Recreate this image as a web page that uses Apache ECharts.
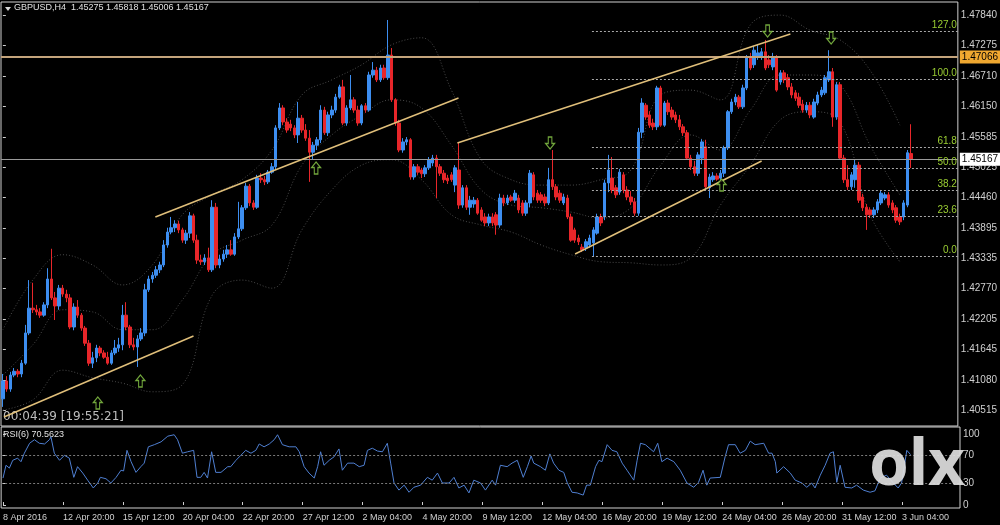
<!DOCTYPE html>
<html lang="en">
<head>
    <meta charset="UTF-8">
    <title>GBPUSD,H4</title>
    <script src="https://cdn.jsdelivr.net/npm/echarts@6/dist/echarts.min.js"></script>
    <style>
        html, body { margin: 0; padding: 0; background: #000; }
        #main { width: 1000px; height: 525px; }
    </style>
</head>
<body>
<div id="main"></div>

<script type="text/javascript">
    // H4 bars, index 0 = 8 Apr 2016 04:00
    var open = [
        1.4073,1.4106,1.4091,1.4117,1.4124,1.4119,1.4139,1.4195,1.4241,1.4238,
        1.4234,1.4228,1.4247,1.4295,1.4260,1.4245,1.4278,1.4267,1.4260,1.4206,
        1.4243,1.4228,1.4204,1.4176,1.4139,1.4149,1.4167,1.4158,1.4150,1.4139,
        1.4158,1.4167,1.4173,1.4228,1.4206,1.4173,1.4169,1.4184,1.4195,1.4275,
        1.4295,1.4302,1.4312,1.4321,1.4358,1.4382,1.4390,1.4397,1.4386,1.4367,
        1.4380,1.4412,1.4367,1.4330,1.4327,1.4334,1.4312,1.4428,1.4321,1.4332,
        1.4341,1.4349,1.4341,1.4373,1.4388,1.4427,1.4467,1.4436,1.4428,1.4482,
        1.4479,1.4475,1.4493,1.4503,1.4575,1.4612,1.4586,1.4582,1.4575,1.4562,
        1.4593,1.4571,1.4556,1.4530,1.4543,1.4553,1.4608,1.4566,1.4599,1.4608,
        1.4632,1.4651,1.4584,1.4612,1.4627,1.4608,1.4584,1.4616,1.4608,1.4673,
        1.4682,1.4664,1.4686,1.4668,1.4710,1.4627,1.4584,1.4534,1.4549,1.4553,
        1.4484,1.4503,1.4497,1.4490,1.4501,1.4510,1.4519,1.4503,1.4491,1.4482,
        1.4488,1.4469,1.4497,1.4432,1.4464,1.4428,1.4434,1.4441,1.4423,1.4410,
        1.4399,1.4410,1.4414,1.4395,1.4445,1.4436,1.4447,1.4441,1.4445,1.4436,
        1.4417,1.4436,1.4488,1.4454,1.4451,1.4447,1.4436,1.4479,1.4466,1.4454,
        1.4436,1.4445,1.4410,1.4386,1.4371,1.4354,1.4353,1.4358,1.4362,1.4380,
        1.4410,1.4410,1.4473,1.4482,1.4464,1.4456,1.4488,1.4460,1.4447,1.4438,
        1.4417,1.4567,1.4617,1.4599,1.4584,1.4577,1.4649,1.4580,1.4621,1.4608,
        1.4599,1.4590,1.4577,1.4566,1.4519,1.4503,1.4491,1.4519,1.4540,1.4464,
        1.4479,1.4486,1.4482,1.4491,1.4538,1.4605,1.4623,1.4632,1.4614,1.4649,
        1.4705,1.4692,1.4706,1.4708,1.4716,1.4701,1.4688,1.4706,1.4660,1.4677,
        1.4668,1.4651,1.4640,1.4632,1.4619,1.4608,1.4617,1.4595,1.4621,1.4636,
        1.4640,1.4664,1.4679,1.4595,1.4655,1.4519,1.4479,1.4466,1.4479,1.4506,
        1.4447,1.4428,1.4423,1.4414,1.4423,1.4436,1.4445,1.4451,1.4436,1.4427,
        1.4410,1.4410,1.4432,1.45275
    ];
    var close = [
        1.4106,1.4091,1.4117,1.4124,1.4119,1.4139,1.4195,1.4241,1.4238,1.4234,
        1.4228,1.4247,1.4295,1.4260,1.4245,1.4278,1.4267,1.4260,1.4206,1.4243,
        1.4228,1.4204,1.4176,1.4139,1.4149,1.4167,1.4158,1.4150,1.4139,1.4158,
        1.4167,1.4173,1.4228,1.4206,1.4173,1.4169,1.4184,1.4195,1.4275,1.4295,
        1.4302,1.4312,1.4321,1.4358,1.4382,1.4390,1.4397,1.4386,1.4367,1.4380,
        1.4412,1.4367,1.4330,1.4327,1.4334,1.4312,1.4428,1.4321,1.4332,1.4341,
        1.4349,1.4341,1.4373,1.4388,1.4427,1.4467,1.4436,1.4428,1.4482,1.4479,
        1.4475,1.4493,1.4503,1.4575,1.4612,1.4586,1.4571,1.4575,1.4562,1.4593,
        1.4571,1.4556,1.4530,1.4543,1.4553,1.4608,1.4566,1.4599,1.4608,1.4632,
        1.4651,1.4584,1.4612,1.4627,1.4608,1.4584,1.4616,1.4608,1.4673,1.4682,
        1.4664,1.4686,1.4668,1.4710,1.4627,1.4584,1.4534,1.4549,1.4553,1.4484,
        1.4503,1.4493,1.4490,1.4501,1.4516,1.4519,1.4503,1.4491,1.4479,1.4477,
        1.4479,1.4501,1.4432,1.4464,1.4428,1.4441,1.4441,1.4417,1.4404,1.4399,
        1.4410,1.4399,1.4395,1.4445,1.4436,1.4445,1.4441,1.4454,1.4423,1.4417,
        1.4436,1.4491,1.4447,1.4441,1.4441,1.4436,1.4479,1.4466,1.4447,1.4441,
        1.4447,1.4410,1.4367,1.4367,1.4364,1.4349,1.4364,1.4371,1.4386,1.4410,
        1.4399,1.4473,1.4497,1.4460,1.4451,1.4493,1.4460,1.4447,1.4438,1.4417,
        1.4567,1.4621,1.4595,1.4580,1.4577,1.4649,1.4580,1.4621,1.4605,1.4595,
        1.4590,1.4577,1.4566,1.4519,1.4503,1.4491,1.4525,1.4549,1.4466,1.4484,
        1.4486,1.4480,1.4491,1.4538,1.4605,1.4623,1.4632,1.4614,1.4649,1.4705,
        1.4686,1.4719,1.4714,1.4716,1.4686,1.4692,1.4706,1.4645,1.4677,1.4664,
        1.4651,1.4636,1.4630,1.4617,1.4608,1.4617,1.4599,1.4623,1.4636,1.4645,
        1.4668,1.4679,1.4595,1.4655,1.4519,1.4479,1.4466,1.4488,1.4506,1.4441,
        1.4427,1.4414,1.4414,1.4423,1.4438,1.4454,1.4451,1.4432,1.4423,1.4404,
        1.4401,1.4436,1.4529,1.45167
    ];
    var low = [
        1.4058,1.4086,1.4086,1.4113,1.4113,1.4113,1.4136,1.4191,1.4232,1.4228,
        1.4223,1.4225,1.4241,1.4256,1.4219,1.4238,1.4262,1.4252,1.4202,1.4200,
        1.4223,1.4199,1.4171,1.4134,1.4130,1.4141,1.4152,1.4147,1.4136,1.4136,
        1.4154,1.4160,1.4163,1.4200,1.4167,1.4163,1.4132,1.4180,1.4189,1.4271,
        1.4288,1.4297,1.4306,1.4317,1.4353,1.4378,1.4382,1.4380,1.4362,1.4360,
        1.4371,1.4362,1.4323,1.4321,1.4321,1.4308,1.4308,1.4315,1.4315,1.4327,
        1.4334,1.4338,1.4338,1.4369,1.4384,1.4423,1.4430,1.4423,1.4425,1.4473,
        1.4469,1.4471,1.4490,1.4497,1.4571,1.4580,1.4566,1.4569,1.4556,1.4547,
        1.4566,1.4551,1.4475,1.4516,1.4534,1.4547,1.4562,1.4560,1.4593,1.4603,
        1.4629,1.4580,1.4579,1.4608,1.4603,1.4579,1.4580,1.4603,1.4605,1.4668,
        1.4660,1.4660,1.4664,1.4664,1.4623,1.4579,1.4530,1.4529,1.4543,1.4479,
        1.4479,1.4488,1.4482,1.4484,1.4497,1.4504,1.4445,1.4486,1.4473,1.4471,
        1.4475,1.4456,1.4425,1.4427,1.4423,1.4414,1.4427,1.4414,1.4401,1.4393,
        1.4393,1.4393,1.4377,1.4390,1.4430,1.4432,1.4438,1.4436,1.4417,1.4412,
        1.4412,1.4428,1.4441,1.4436,1.4436,1.4430,1.4432,1.4460,1.4441,1.4436,
        1.4432,1.4406,1.4364,1.4362,1.4358,1.4345,1.4347,1.4353,1.4336,1.4377,
        1.4393,1.4404,1.4456,1.4454,1.4445,1.4451,1.4454,1.4441,1.4432,1.4412,
        1.4412,1.4556,1.4590,1.4575,1.4571,1.4571,1.4577,1.4577,1.4599,1.4590,
        1.4584,1.4571,1.4560,1.4516,1.4497,1.4486,1.4486,1.4508,1.4460,1.4445,
        1.4475,1.4477,1.4479,1.4484,1.4534,1.4601,1.4617,1.4610,1.4610,1.4645,
        1.4682,1.4686,1.4701,1.4701,1.4682,1.4686,1.4682,1.4642,1.4655,1.4658,
        1.4645,1.4630,1.4625,1.4612,1.4603,1.4603,1.4593,1.4592,1.4617,1.4632,
        1.4636,1.4660,1.4577,1.4590,1.4516,1.4473,1.4460,1.4460,1.4464,1.4436,
        1.4421,1.4386,1.4408,1.4408,1.4417,1.4432,1.4441,1.4427,1.4417,1.4399,
        1.4395,1.4404,1.4428,1.45006
    ];
    var high = [
        1.4119,1.4115,1.4123,1.4130,1.4128,1.4145,1.4210,1.4293,1.4288,1.4247,
        1.4241,1.4252,1.4315,1.4351,1.4271,1.4284,1.4284,1.4275,1.4267,1.4250,
        1.4256,1.4232,1.4208,1.4182,1.4160,1.4173,1.4171,1.4163,1.4160,1.4163,
        1.4182,1.4186,1.4247,1.4252,1.4210,1.4186,1.4191,1.4204,1.4286,1.4301,
        1.4308,1.4319,1.4327,1.4367,1.4390,1.4410,1.4404,1.4403,1.4390,1.4386,
        1.4419,1.4416,1.4377,1.4340,1.4341,1.4353,1.4441,1.4436,1.4340,1.4349,
        1.4358,1.4367,1.4380,1.4438,1.4432,1.4473,1.4471,1.4441,1.4488,1.4491,
        1.4486,1.4497,1.4510,1.4580,1.4621,1.4617,1.4593,1.4590,1.4580,1.4623,
        1.4599,1.4582,1.4571,1.4549,1.4558,1.4617,1.4614,1.4605,1.4616,1.4638,
        1.4655,1.4664,1.4617,1.4673,1.4632,1.4616,1.4619,1.4621,1.4679,1.4697,
        1.4688,1.4692,1.4692,1.4775,1.4723,1.4630,1.4590,1.4556,1.4558,1.4556,
        1.4508,1.4508,1.4501,1.4506,1.4521,1.4525,1.4525,1.4508,1.4497,1.4488,
        1.4493,1.4506,1.4547,1.4469,1.4469,1.4449,1.4447,1.4445,1.4428,1.4417,
        1.4416,1.4417,1.4419,1.4453,1.4451,1.4451,1.4451,1.4460,1.4451,1.4441,
        1.4441,1.4497,1.4493,1.4460,1.4456,1.4453,1.4501,1.4534,1.4471,1.4460,
        1.4453,1.4451,1.4416,1.4390,1.4377,1.4360,1.4369,1.4377,1.4391,1.4416,
        1.4416,1.4479,1.4525,1.4521,1.4469,1.4499,1.4493,1.4467,1.4458,1.4445,
        1.4575,1.4630,1.4621,1.4606,1.4592,1.4653,1.4653,1.4625,1.4627,1.4614,
        1.4605,1.4599,1.4582,1.4571,1.4525,1.4514,1.4530,1.4554,1.4553,1.4490,
        1.4493,1.4491,1.4497,1.4542,1.4608,1.4629,1.4638,1.4636,1.4655,1.4710,
        1.4714,1.4727,1.4729,1.4723,1.4738,1.4710,1.4714,1.4710,1.4682,1.4682,
        1.4675,1.4658,1.4645,1.4640,1.4627,1.4623,1.4623,1.4629,1.4642,1.4651,
        1.4673,1.4719,1.4686,1.4660,1.4660,1.4525,1.4506,1.4493,1.4516,1.4512,
        1.4453,1.4434,1.4428,1.4428,1.4443,1.4460,1.4456,1.4456,1.4441,1.4432,
        1.4416,1.4441,1.4534,1.45818
    ];

    // Bollinger bands, read every 8 bars
    var bandPos = [0,8,16,24,32,40,48,56,64,72,80,88,96,104,112,120,128,136,144,152,160,168,176,184,192,200,208,216,224,232,240];
    var bandUpper = [1.4201,1.4293,1.4340,1.4321,1.4284,1.4321,1.4414,1.4451,1.4479,1.4534,1.4636,1.4664,1.4692,1.4729,1.4742,1.4645,
        1.4516,1.4479,1.4469,1.4469,1.4479,1.4497,1.4636,1.4645,1.4627,1.4766,1.4784,1.4756,1.4738,1.4682,1.4580];
    var bandMid = [1.4117,1.4173,1.4238,1.4234,1.4201,1.4201,1.4256,1.4340,1.4367,1.4395,1.4506,1.4562,1.4599,1.4627,1.4612,1.4543,
        1.4460,1.4432,1.4427,1.4419,1.4408,1.4427,1.4506,1.4562,1.4534,1.4608,1.4673,1.4673,1.4655,1.4543,1.4451];
    var bandLower = [1.4052,1.4071,1.4126,1.4112,1.4102,1.4086,1.4099,1.4265,1.4293,1.4278,1.4386,1.4460,1.4506,1.4516,1.4479,1.4414,
        1.4395,1.4382,1.4358,1.4340,1.4327,1.4325,1.4321,1.4334,1.4432,1.4506,1.4590,1.4605,1.4586,1.4414,1.4327];

    // RSI(6)
    var rsiPos = [0,0.8,1.7,2.6,3.9,4.8,5.7,7.1,8.4,9.7,11.1,12.4,12.8,13.7,15.1,16.4,17.7,18.9,19.9,21.3,
        22.6,24.1,25.3,26,27.5,28.8,30.2,31.5,32.2,33.1,34.2,35.5,36.8,37.7,38.8,40.4,42.2,44,45.7,46.6,
        47.9,49.3,50.9,51.8,52.8,53.7,54.6,55.7,56.8,58.2,60,60.8,62.2,63.5,64.8,66.2,67.5,68.4,69.7,71.1,
        72.4,73.3,74.6,76.4,78.2,79.1,80.4,81.7,83.1,84,84.8,85.7,87.1,88.4,89.7,90.6,92,93.7,95.1,96.4,
        97.3,98.6,100,101.3,102.6,103.5,104.4,105.7,107.1,108.4,109.7,111.5,113.3,114.6,116,117.3,119.1,120.4,121.7,123.1,
        124.4,125.7,127.5,128.8,130.6,131.5,132.8,134.6,135.9,137.3,138.9,140,141,141.7,143.5,144.8,146,147,148.4,149.7,
        150.6,151.9,153.3,154.9,155.8,156.8,158.2,159.1,159.9,161.3,162.6,163.9,165.3,166.6,168.4,169.3,170.2,171.5,173.7,174.8,
        175.9,177.3,179.1,180.8,182.6,184.4,185.7,186.9,187.9,188.8,191.5,192.8,193.7,195.5,196.8,198.2,199.5,200.8,203.1,204.4,
        205.3,206.2,206.6,208.4,210.2,211.5,213.3,214.6,215.9,216.8,218.2,219.5,220.8,221.7,222.6,223.5,224.8,226.6,227.9,229.7,
        231.5,232.8,234.2,235.9,237.7,239,239.9,241.3,242.3];
    var rsiVal = [38,56,52,63,66,61,73,87,92,87,86,92,96,73,63,70,66,39,54,45,
        35,24,31,39,37,31,39,49,48,77,61,46,54,59,82,85,89,97,99,92,
        73,75,77,39,39,46,38,75,46,46,54,54,63,70,77,73,77,86,82,86,
        92,99,85,82,82,75,54,45,38,54,75,56,63,68,79,49,59,59,54,56,
        77,80,76,75,87,59,31,21,28,18,25,28,39,35,45,31,31,39,24,28,
        17,35,31,21,35,28,56,54,59,63,39,54,69,59,54,49,72,59,49,46,
        32,18,17,14,28,28,54,63,61,85,77,75,59,49,35,63,87,85,75,87,
        61,66,61,49,31,25,32,49,28,38,39,68,85,85,73,77,90,85,87,73,
        73,61,45,54,45,35,31,25,31,24,42,56,73,75,32,56,25,24,28,21,
        18,20,38,42,31,24,31,77,71];

    var priceTicks = [1.40515,1.41080,1.41645,1.42205,1.42770,1.43335,1.43895,1.44460,1.45025,1.45585,1.46150,1.46710,1.47275,1.47840];
    var rsiTicks = [0,30,70,100];
    var timeTicks = [0,16,32,48,64,80,96,112,128,144,160,176,192,208,224,240];
    var timeLabels = ['8 Apr 2016','12 Apr 20:00','15 Apr 12:00','20 Apr 04:00','22 Apr 20:00','27 Apr 12:00','2 May 04:00','4 May 20:00',
        '9 May 12:00','12 May 04:00','16 May 20:00','19 May 12:00','24 May 04:00','26 May 20:00','31 May 12:00','3 Jun 04:00'];

    var bidPrice = 1.45167;
    var levelPrice = 1.47066;

    var fibNames = ['127.0','100.0','61.8','50.0','38.2','23.6','0.0'];
    var fibPrices = [1.47546,1.46656,1.45396,1.45007,1.44598,1.44118,1.43376];
    var fibFrom = 157.6;

    // trend lines: [bar, price, bar, price]
    var trendLines = [
        [0.3, 1.40393, 51.0, 1.41894],
        [40.8, 1.44099, 121.9, 1.46304],
        [121.6, 1.45470, 210.7, 1.47490],
        [153.1, 1.43413, 203.0, 1.45137]
    ];

    var upArrowPos = [25.4, 36.8, 83.8, 192.3];
    var upArrowPrice = [1.40652, 1.41060, 1.45007, 1.44692];
    var downArrowPos = [146.4, 204.6, 221.6];
    var downArrowPrice = [1.45470, 1.47546, 1.47416];

    var FONT = 'Liberation Sans';
    var myChart = echarts.init(document.getElementById('main'));

    var candles = open.map(function (o, i) { return [i, o, close[i], low[i], high[i]]; });
    function band(arr) { return bandPos.map(function (p, k) { return [p, arr[k]]; }); }

    var marks = [
        {
            yAxis: levelPrice,
            lineStyle: {color: '#c4a47c', width: 2, type: 'solid'},
            label: {show: true, position: 'end', distance: 2, formatter: levelPrice.toFixed(5),
                backgroundColor: '#f0a830', color: '#000', fontSize: 10, fontFamily: FONT, padding: [2, 2, 1, 2]}
        },
        {
            yAxis: bidPrice,
            lineStyle: {color: '#9a9a9a', width: 1, type: 'solid'},
            label: {show: true, position: 'end', distance: 2, formatter: bidPrice.toFixed(5),
                backgroundColor: '#ffffff', color: '#000', fontSize: 10, fontFamily: FONT, padding: [2, 2, 1, 2]}
        }
    ];
    fibPrices.forEach(function (p, k) {
        marks.push([
            {coord: [fibFrom, p], lineStyle: {color: '#a8a8a8', width: 1, type: [2, 2]},
                label: {show: true, position: 'insideEndTop', distance: 1, formatter: fibNames[k],
                    color: '#9acd32', fontSize: 10, fontFamily: FONT}},
            {coord: [255.5, p]}
        ]);
    });
    trendLines.forEach(function (t) {
        marks.push([
            {coord: [t[0], t[1]], lineStyle: {color: '#e0bf7a', width: 1.5, type: 'solid'}, label: {show: false}},
            {coord: [t[2], t[3]]}
        ]);
    });

    var bandStyle = {color: '#4a4a4a', width: 1, type: [1, 2]};

    myChart.setOption({
        backgroundColor: '#000',
        animation: false,
        textStyle: {fontFamily: FONT},
        grid: [
            {left: 1, top: 2, width: 959, height: 424, show: true, borderColor: '#d0d0d0', borderWidth: 1, backgroundColor: '#000'},
            {left: 1, top: 427, width: 959, height: 81, show: true, borderColor: '#d0d0d0', borderWidth: 1}
        ],
        xAxis: [
            {type: 'value', gridIndex: 0, min: -0.5, max: 255.5,
                axisLine: {show: false}, axisTick: {show: false}, axisLabel: {show: false}, splitLine: {show: false}},
            {type: 'value', gridIndex: 1, min: -0.5, max: 255.5,
                axisLine: {show: false}, splitLine: {show: false},
                axisTick: {show: true, inside: true, length: 3, customValues: timeTicks, lineStyle: {color: '#d0d0d0'}},
                axisLabel: {customValues: timeTicks, color: '#d0d0d0', fontSize: 9, align: 'left', margin: 5,
                    formatter: function (v) { return timeLabels[timeTicks.indexOf(v)] || ''; }}}
        ],
        yAxis: [
            {type: 'value', gridIndex: 0, position: 'right', min: 1.40226, max: 1.48083,
                axisLine: {show: false}, splitLine: {show: false},
                axisTick: {show: true, length: 3, customValues: priceTicks, lineStyle: {color: '#d0d0d0'}},
                axisLabel: {customValues: priceTicks, color: '#d0d0d0', fontSize: 10, margin: 3,
                    formatter: function (v) { return v.toFixed(5); }}},
            {type: 'value', gridIndex: 1, position: 'right', min: -4.2, max: 109.9,
                axisLine: {show: false}, splitLine: {show: false},
                axisTick: {show: true, length: 3, customValues: rsiTicks, lineStyle: {color: '#d0d0d0'}},
                axisLabel: {customValues: rsiTicks, color: '#d0d0d0', fontSize: 10, margin: 3}}
        ],
        series: [
            {type: 'line', name: 'upper', xAxisIndex: 0, yAxisIndex: 0, data: band(bandUpper), smooth: 0.4,
                showSymbol: false, silent: true, lineStyle: bandStyle, z: 1},
            {type: 'line', name: 'mid', xAxisIndex: 0, yAxisIndex: 0, data: band(bandMid), smooth: 0.4,
                showSymbol: false, silent: true, lineStyle: bandStyle, z: 1},
            {type: 'line', name: 'lower', xAxisIndex: 0, yAxisIndex: 0, data: band(bandLower), smooth: 0.4,
                showSymbol: false, silent: true, lineStyle: bandStyle, z: 1},
            {
                type: 'candlestick', name: 'GBPUSD', xAxisIndex: 0, yAxisIndex: 0,
                data: candles, encode: {x: 0, y: [1, 2, 3, 4]}, barWidth: 3, silent: true,
                itemStyle: {color: '#3d8ef0', color0: '#e8262a', borderColor: '#3d8ef0', borderColor0: '#e8262a', borderWidth: 1},
                z: 3
            },
            {
                type: 'line', name: 'levels', xAxisIndex: 0, yAxisIndex: 0, data: [], clip: false, silent: true, z: 4,
                markLine: {symbol: ['none', 'none'], silent: true, animation: false, precision: 6, data: marks}
            },
            {
                type: 'scatter', name: 'up', xAxisIndex: 0, yAxisIndex: 0, silent: true, z: 5,
                data: upArrowPos.map(function (p, k) { return [p, upArrowPrice[k]]; }),
                symbol: 'path://M5,0L10,6L7,6L7,13L3,13L3,6L0,6Z', symbolSize: [9, 12],
                itemStyle: {color: '#000', borderColor: '#8ed14b', borderWidth: 1.2}
            },
            {
                type: 'scatter', name: 'down', xAxisIndex: 0, yAxisIndex: 0, silent: true, z: 5,
                data: downArrowPos.map(function (p, k) { return [p, downArrowPrice[k]]; }),
                symbol: 'path://M3,0L7,0L7,7L10,7L5,13L0,7L3,7Z', symbolSize: [9, 12],
                itemStyle: {color: '#000', borderColor: '#8ed14b', borderWidth: 1.2}
            },
            {
                type: 'line', name: 'RSI(6)', xAxisIndex: 1, yAxisIndex: 1, silent: true,
                data: rsiPos.map(function (p, k) { return [p, rsiVal[k]]; }),
                showSymbol: false, lineStyle: {color: '#4f7fd1', width: 1},
                markLine: {symbol: ['none', 'none'], silent: true, label: {show: false},
                    lineStyle: {color: '#7a7a7a', type: [2, 2], width: 1},
                    data: [{yAxis: 70}, {yAxis: 30}]}
            }
        ],
        graphic: [
            {type: 'polygon', shape: {points: [[5, 7], [11, 7], [8, 11]]}, style: {fill: '#d8d8d8'}},
            {type: 'text', left: 14, top: 3, style: {text: 'GBPUSD,H4  1.45275 1.45818 1.45006 1.45167',
                fill: '#e0e0e0', font: '9px "Liberation Sans"'}},
            {type: 'text', left: 3, top: 411, style: {text: '00:04:39 [19:55:21]',
                fill: '#bdbdbd', font: '12px "DejaVu Sans"'}},
            {type: 'text', left: 3, top: 430, style: {text: 'RSI(6) 70.5623',
                fill: '#e0e0e0', font: '9px "Liberation Sans"'}},
            {type: 'text', z: 100, style: {text: 'olx', x: 869, y: 467, verticalAlign: 'middle',
                fill: 'rgba(222,222,222,0.92)', font: 'bold 64px "Noto Sans"'}}
        ]
    });
</script>
</body>
</html>
